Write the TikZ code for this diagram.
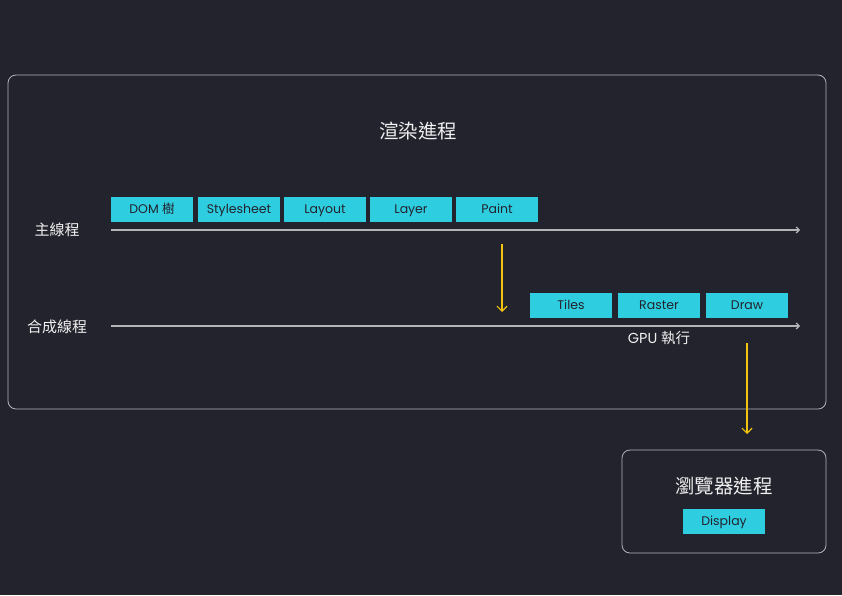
\documentclass[tikz,border=0pt]{standalone}
\usepackage{fontspec}
\setmainfont{Poppins}
\newfontfamily\cjk{Noto Sans CJK TC}
\usetikzlibrary{arrows.meta}
\definecolor{bg}{HTML}{23232D}
\definecolor{cyanbox}{HTML}{2ECDE0}
\definecolor{frame}{HTML}{B4B4B8}
\definecolor{ylw}{HTML}{F2C40F}
\definecolor{txt}{HTML}{F0F0F0}
\begin{document}
\begin{tikzpicture}[x=1pt,y=-1pt,
  stage/.style={fill=cyanbox,minimum width=82pt,minimum height=25pt,inner sep=0pt,text=bg,font=\fontsize{12.5}{14}\selectfont,text height=9pt,text depth=2pt},
  frm/.style={draw=frame,line width=0.8pt,rounded corners=8pt},
  title/.style={text=txt,font=\cjk\fontsize{19.5}{22}\selectfont},
  lbl/.style={text=txt,font=\cjk\fontsize{15}{17}\selectfont},
  timeline/.style={draw=frame,line width=1.2pt,-{Straight Barb[length=3pt,width=6pt]}},
  flow/.style={draw=ylw,line width=1.2pt,-{Straight Barb[length=5pt,width=10pt]}}]
\fill[bg] (0,0) rectangle (842,595);
\useasboundingbox (0,0) rectangle (842,595);
\node[frm,minimum width=818pt,minimum height=334pt,inner sep=0pt] (rp) at (417,242) {};
\node[title] (rpt) at (418,131) {渲染進程};
\node[lbl] (main) at (57,230) {主線程};
\node[lbl] (comp) at (57,327) {合成線程};
\coordinate (m0) at (111,230);
\coordinate (m1) at (800,230);
\coordinate (c0) at (111,326);
\coordinate (c1) at (800,326);
\draw[timeline] (m0) -- (m1);
\draw[timeline] (c0) -- (c1);
\node[stage] (dom) at (152,209.5) {DOM {\cjk 樹}};
\node[stage] (style) at (239,209.5) {Stylesheet};
\node[stage] (layout) at (325,209.5) {Layout};
\node[stage] (layer) at (411,209.5) {Layer};
\node[stage] (paint) at (497,209.5) {Paint};
\node[stage] (tiles) at (571,305.5) {Tiles};
\node[stage] (raster) at (659,305.5) {Raster};
\node[stage] (draw) at (747,305.5) {Draw};
\node[lbl,font=\fontsize{14.5}{17}\selectfont] (gpu) at (659,338) {GPU {\cjk 執行}};
\coordinate (y0) at (502,244);
\coordinate (y1) at (502,312);
\draw[flow] (y0) -- (y1);
\node[frm,minimum width=204pt,minimum height=103pt,inner sep=0pt] (bp) at (724,501.5) {};
\coordinate (z0) at (747,343);
\coordinate (z1) at (747,434);
\draw[flow] (z0) -- (z1);
\node[title] (bpt) at (724,486) {瀏覽器進程};
\node[stage] (disp) at (724,521.5) {Display};
\end{tikzpicture}
\end{document}
